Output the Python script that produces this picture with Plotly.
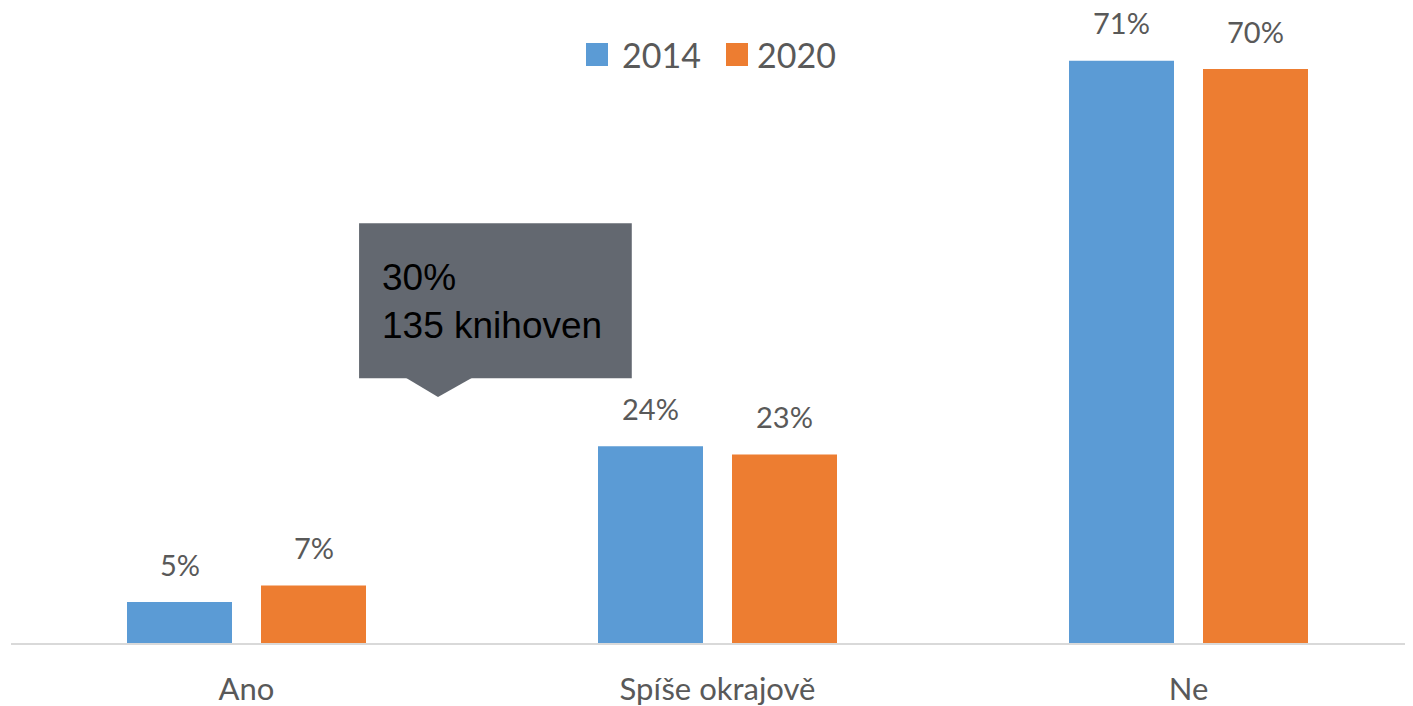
import plotly.graph_objects as go

# data
categories = ["Ano", "Spíše okrajově", "Ne"]
years = ["2014", "2020"]
values_2014 = [5, 24, 71]
values_2020 = [7, 23, 70]
colors = ["#5B9BD5", "#ED7D31"]

# callout box
callout_value = 30
callout_count = 135

OFF = 8               # page body margin
W, H = 1413 - OFF, 706 - OFF
ML, MB = 11 - OFF, 63
plot_w = W - ML
plot_h = H - MB
cat_px = 471          # pixels per category
pct_px = 8.2          # pixels per percent

def px_x(px):
    return (px - OFF - ML) / plot_w

def px_y(py):
    return 1 - (py - OFF) / plot_h

fig = go.Figure()
for name, vals, col in zip(years, [values_2014, values_2020], colors):
    fig.add_trace(go.Bar(x=categories, y=vals, name=name, marker_color=col,
                         marker_line_width=0, showlegend=False))

# value labels above bars
annots = []
for i, cat in enumerate(categories):
    for j, vals in enumerate([values_2014, values_2020]):
        annots.append(dict(x=i + (-0.5 + j) * 134 / cat_px, y=vals[i], xref="x", yref="y",
                           text=f"{vals[i]}%", showarrow=False, yanchor="middle", yshift=38,
                           font=dict(family="Lato", size=29, color="#595959")))

# legend built by hand (large squares)
leg = [("2014", colors[0], 586, 620), ("2020", colors[1], 726, 755)]
shapes = []
for name, col, sx, tx in leg:
    shapes.append(dict(type="rect", xref="paper", yref="paper",
                       x0=px_x(sx), x1=px_x(sx + 22), y0=px_y(66), y1=px_y(43),
                       fillcolor=col, line_width=0))
    annots.append(dict(x=px_x(tx), y=px_y(54), xref="paper", yref="paper", text=name,
                       showarrow=False, xanchor="left", yanchor="middle",
                       font=dict(family="Lato", size=34, color="#595959")))

# callout
shapes.append(dict(type="rect", xref="x", yref="y", x0=0.239, x1=0.818, y0=32.3, y1=51.2,
                   fillcolor="#636870", line_width=0, layer="above"))
shapes.append(dict(type="path", xref="x", yref="y",
                   path=f"M 0.3365 32.4 L 0.481 32.4 L 0.4066 {callout_value} Z",
                   fillcolor="#636870", line_width=0, layer="above"))
annots.append(dict(x=0.2834, y=41.6, xref="x", yref="y",
                   text=f"{callout_value}%<br>{callout_count} knihoven",
                   showarrow=False, xanchor="left", yanchor="middle", align="left",
                   font=dict(family="Liberation Sans", size=37, color="#000000")))

fig.update_layout(
    width=W, height=H,
    margin=dict(l=ML, r=0, t=0, b=MB),
    plot_bgcolor="white", paper_bgcolor="white",
    barmode="group", bargap=1 - 268 / cat_px, bargroupgap=29 / 134,
    annotations=annots, shapes=shapes,
    xaxis=dict(range=[-0.5, -0.5 + plot_w / cat_px], showgrid=False, showline=True,
               linecolor="#D9D9D9", linewidth=2, ticks="", ticklabelstandoff=18,
               tickfont=dict(family="Lato", size=31, color="#595959")),
    yaxis=dict(range=[0, plot_h / pct_px], visible=False, showgrid=False, zeroline=False),
)

fig.write_html("out.html")
